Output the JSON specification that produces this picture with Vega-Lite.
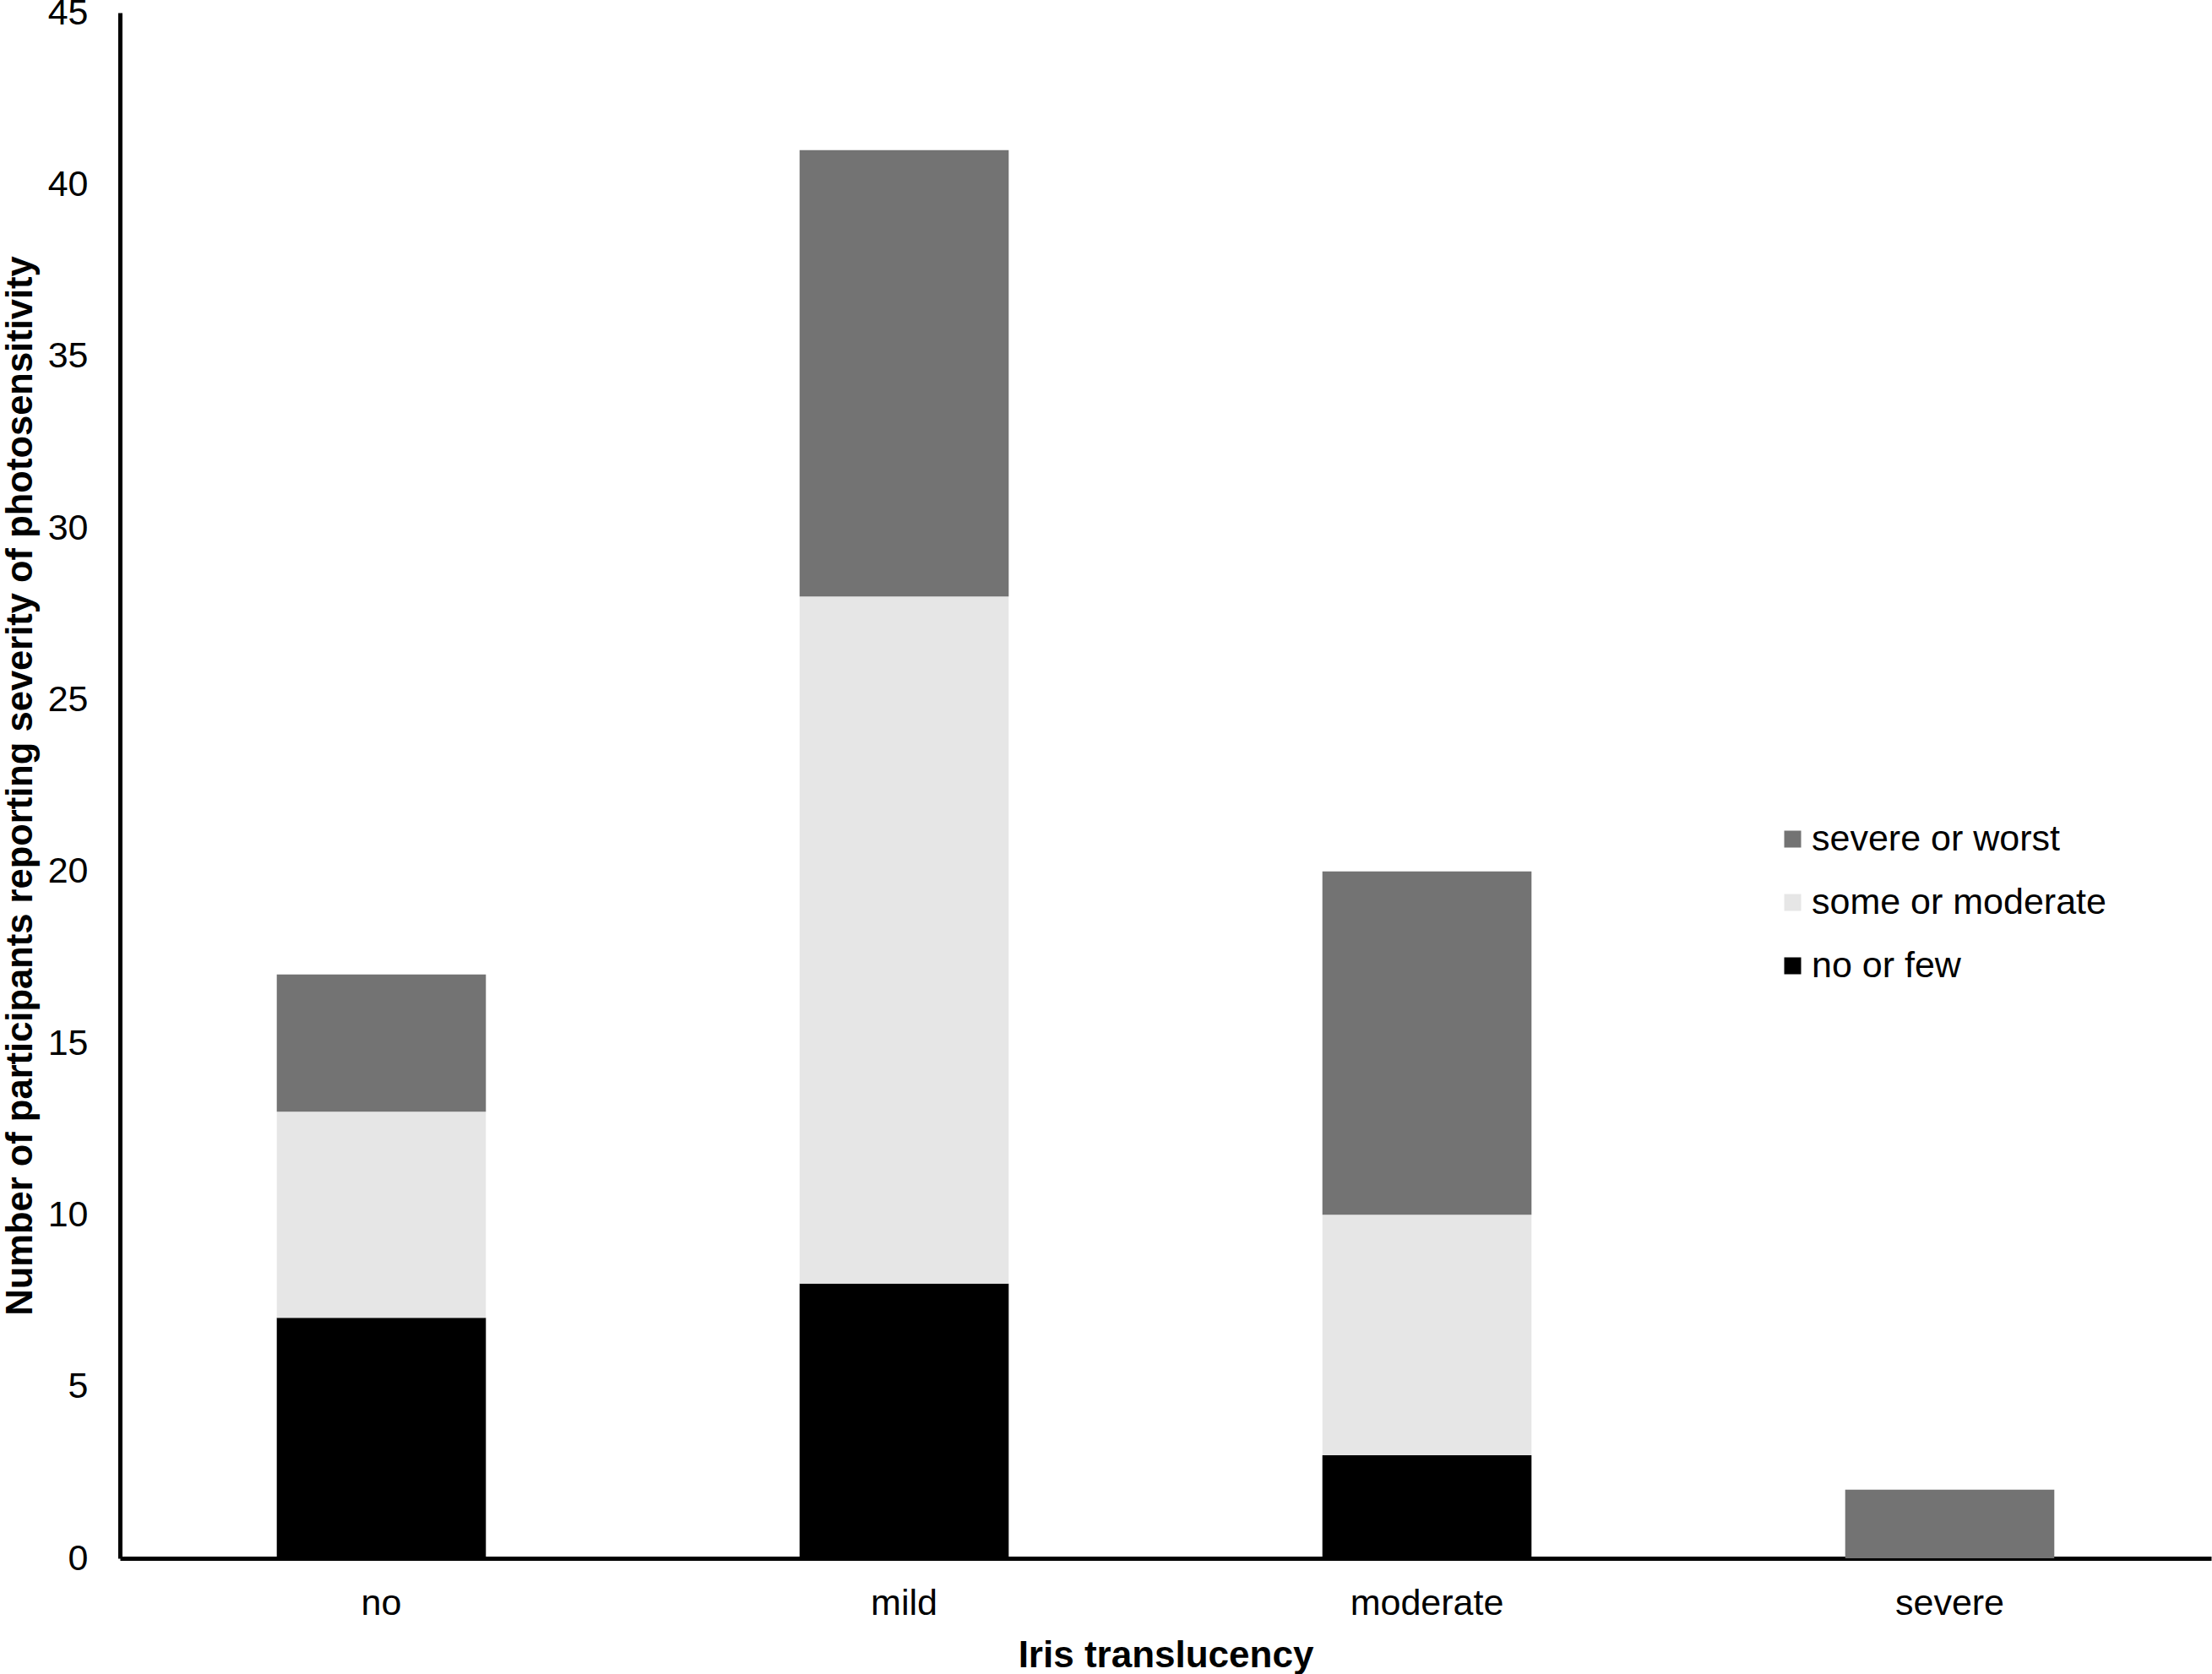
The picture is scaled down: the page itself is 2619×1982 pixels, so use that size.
{
  "$schema": "https://vega.github.io/schema/vega-lite/v6.json",
  "width": 2476,
  "height": 1830,
  "autosize": {"type": "none"},
  "padding": {"left": 142, "top": 15, "right": 1, "bottom": 137},
  "background": "white",
  "config": {
    "view": {"stroke": null},
    "font": "Liberation Sans",
    "axis": {"labelFont": "Liberation Sans", "titleFont": "Liberation Sans", "labelColor": "#000000", "titleColor": "#000000"},
    "legend": {"labelFont": "Liberation Sans"}
  },
  "data": {
    "values": [
      {"translucency": "no", "severity": "no or few", "rank": 1, "count": 7},
      {"translucency": "no", "severity": "some or moderate", "rank": 2, "count": 6},
      {"translucency": "no", "severity": "severe or worst", "rank": 3, "count": 4},
      {"translucency": "mild", "severity": "no or few", "rank": 1, "count": 8},
      {"translucency": "mild", "severity": "some or moderate", "rank": 2, "count": 20},
      {"translucency": "mild", "severity": "severe or worst", "rank": 3, "count": 13},
      {"translucency": "moderate", "severity": "no or few", "rank": 1, "count": 3},
      {"translucency": "moderate", "severity": "some or moderate", "rank": 2, "count": 7},
      {"translucency": "moderate", "severity": "severe or worst", "rank": 3, "count": 10},
      {"translucency": "severe", "severity": "no or few", "rank": 1, "count": 0},
      {"translucency": "severe", "severity": "some or moderate", "rank": 2, "count": 0},
      {"translucency": "severe", "severity": "severe or worst", "rank": 3, "count": 2}
    ]
  },
  "mark": {"type": "bar"},
  "encoding": {
    "x": {
      "field": "translucency",
      "type": "nominal",
      "sort": ["no", "mild", "moderate", "severe"],
      "scale": {"paddingInner": 0.6, "paddingOuter": 0.3},
      "axis": {
        "title": "Iris translucency",
        "titleFontSize": 44,
        "titleFontWeight": "bold",
        "titlePadding": 18,
        "labelFontSize": 43,
        "labelAngle": 0,
        "labelPadding": 32,
        "labelLimit": 0,
        "ticks": false,
        "domainColor": "#000000",
        "domainWidth": 5,
        "grid": false
      }
    },
    "y": {
      "field": "count",
      "type": "quantitative",
      "stack": "zero",
      "scale": {"domain": [0, 45], "nice": false},
      "axis": {
        "title": "Number of participants reporting severity of photosensitivity",
        "titleFontSize": 43.5,
        "titleFontWeight": "bold",
        "titlePadding": 10,
        "titleLimit": 0,
        "labelFontSize": 43,
        "labelPadding": 38,
        "values": [0, 5, 10, 15, 20, 25, 30, 35, 40, 45],
        "ticks": false,
        "domainColor": "#000000",
        "domainWidth": 5,
        "grid": false
      }
    },
    "color": {
      "field": "severity",
      "type": "nominal",
      "scale": {
        "domain": ["severe or worst", "some or moderate", "no or few"],
        "range": ["#737373", "#e6e6e6", "#000000"]
      },
      "legend": {
        "title": null,
        "orient": "none",
        "legendX": 1959,
        "legendY": 957,
        "padding": 0,
        "symbolType": "square",
        "symbolSize": 400,
        "symbolStrokeWidth": 0,
        "labelFontSize": 43,
        "labelOffset": 1,
        "labelLimit": 0,
        "rowPadding": 31,
        "labelColor": "#000000"
      }
    },
    "order": {"field": "rank", "type": "quantitative", "sort": "ascending"}
  }
}
